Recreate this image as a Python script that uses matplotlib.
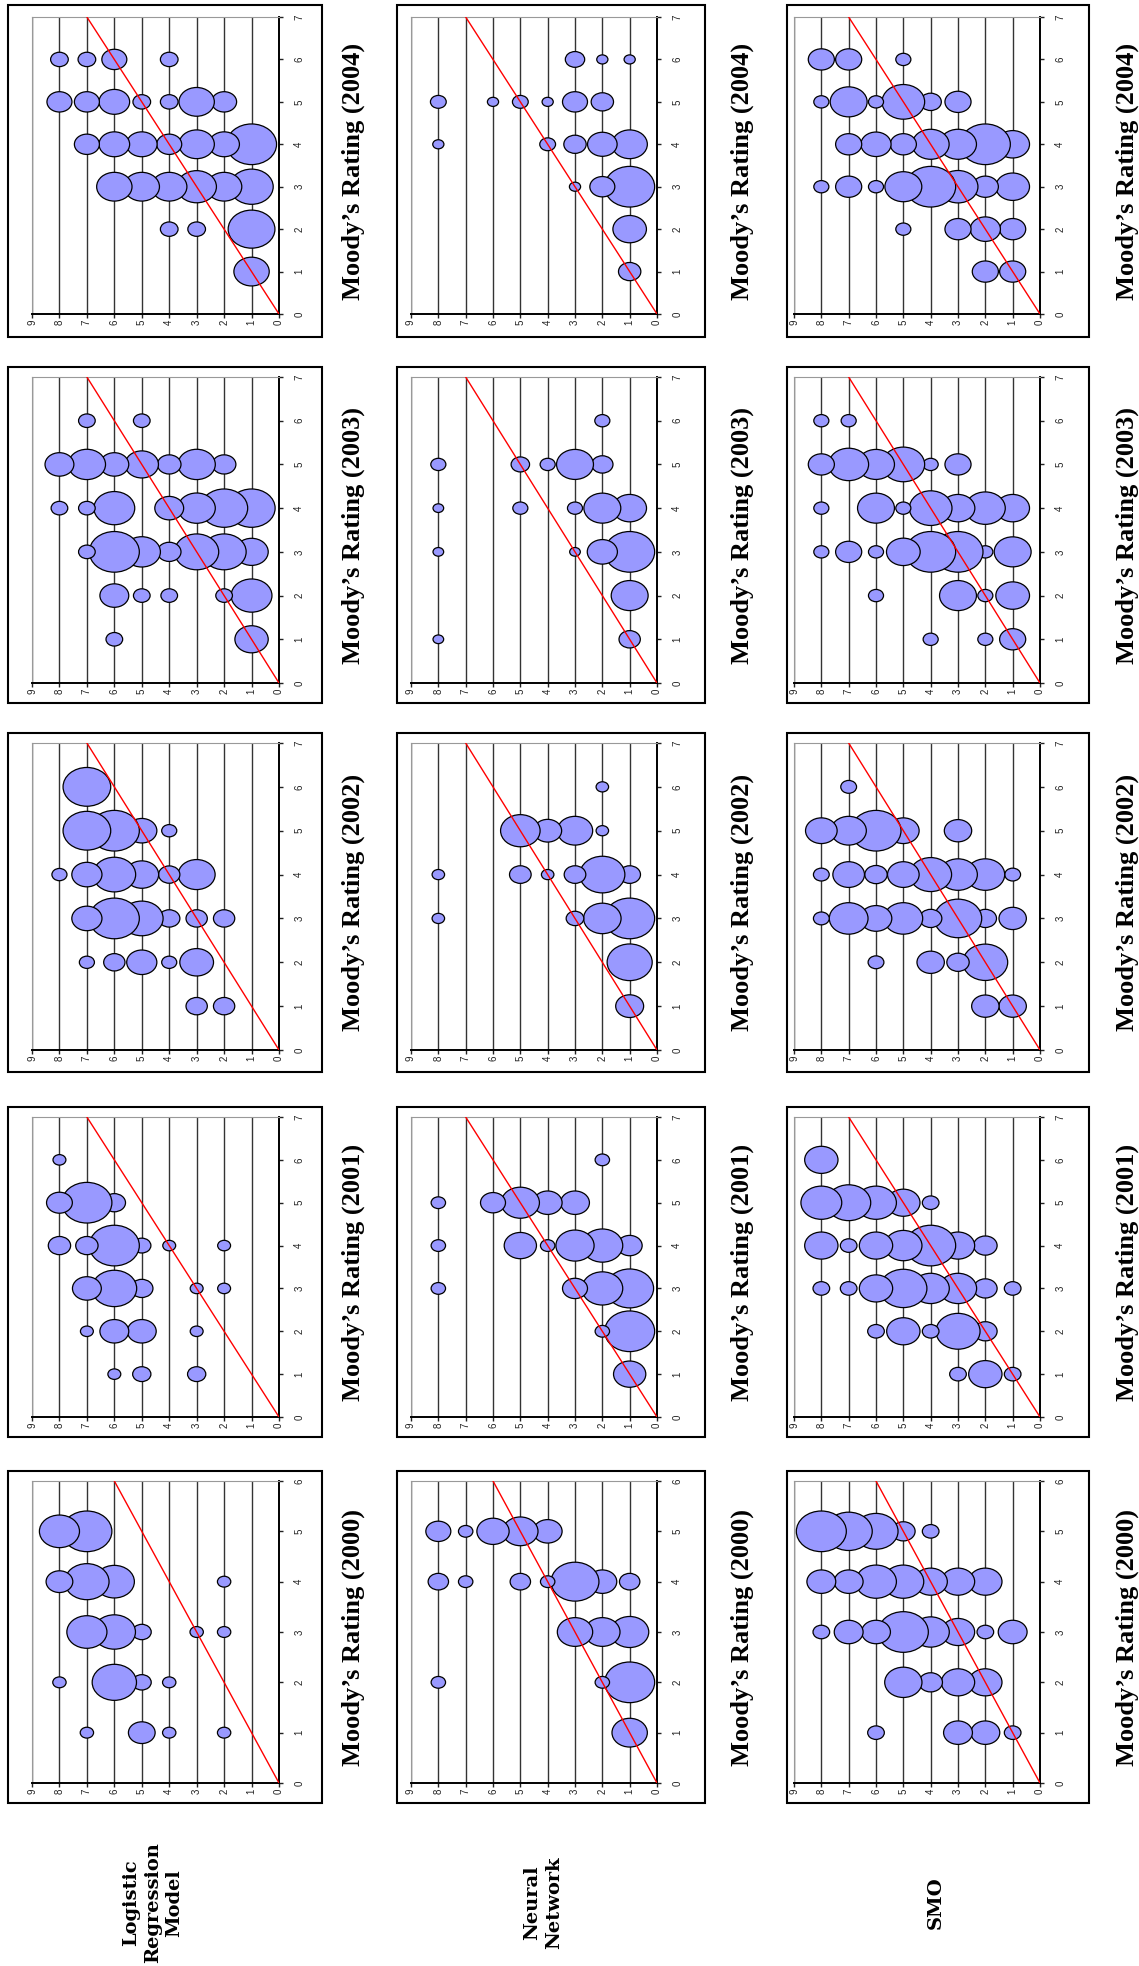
import numpy as np
import matplotlib
matplotlib.use('Agg')
import matplotlib.pyplot as plt
from matplotlib.path import Path
from matplotlib.patches import Rectangle

# bubbles per panel: (Moody's rating, model rating, count)
LR_2004 = [(6, 8, 1), (6, 7, 1), (6, 6, 2), (6, 4, 1),
           (5, 8, 2), (5, 7, 2), (5, 6, 3), (5, 5, 1), (5, 4, 1), (5, 3, 4), (5, 2, 2),
           (4, 7, 2), (4, 6, 3), (4, 5, 3), (4, 4, 2), (4, 3, 4), (4, 2, 3), (4, 1, 8),
           (3, 6, 4), (3, 5, 4), (3, 4, 4), (3, 3, 5), (3, 2, 4), (3, 1, 6),
           (2, 4, 1), (2, 3, 1), (2, 1, 7),
           (1, 1, 4)]
LR_2003 = [(6, 7, 1), (6, 5, 1),
           (5, 8, 3), (5, 7, 5), (5, 6, 3), (5, 5, 4), (5, 4, 2), (5, 3, 5), (5, 2, 2),
           (4, 8, 1), (4, 7, 1), (4, 6, 6), (4, 4, 3), (4, 3, 5), (4, 2, 8), (4, 1, 8),
           (3, 7, 1), (3, 6, 9), (3, 5, 5), (3, 4, 2), (3, 3, 7), (3, 2, 7), (3, 1, 4),
           (2, 6, 3), (2, 5, 1), (2, 4, 1), (2, 2, 1), (2, 1, 6),
           (1, 6, 1), (1, 1, 4)]
LR_2002 = [(6, 7, 10),
           (5, 7, 10), (5, 6, 11), (5, 5, 4), (5, 4, 1),
           (4, 8, 1), (4, 7, 4), (4, 6, 8), (4, 5, 5), (4, 4, 2), (4, 3, 6),
           (3, 7, 4), (3, 6, 11), (3, 5, 8), (3, 4, 2), (3, 3, 2), (3, 2, 2),
           (2, 7, 1), (2, 6, 2), (2, 5, 4), (2, 4, 1), (2, 3, 5),
           (1, 3, 2), (1, 2, 2)]
LR_2001 = [(6, 8, 1),
           (5, 8, 4), (5, 7, 15), (5, 6, 3),
           (4, 8, 3), (4, 7, 3), (4, 6, 15), (4, 5, 2), (4, 4, 1), (4, 2, 1),
           (3, 7, 5), (3, 6, 12), (3, 5, 3), (3, 3, 1), (3, 2, 1),
           (2, 7, 1), (2, 6, 5), (2, 5, 5), (2, 3, 1),
           (1, 6, 1), (1, 5, 2), (1, 3, 2)]
LR_2000 = [(5, 8, 9), (5, 7, 14),
           (4, 8, 4), (4, 7, 11), (4, 6, 9), (4, 2, 1),
           (3, 7, 9), (3, 6, 10), (3, 5, 2), (3, 3, 1), (3, 2, 1),
           (2, 8, 1), (2, 6, 11), (2, 5, 2), (2, 4, 1),
           (1, 7, 1), (1, 5, 4), (1, 4, 1), (1, 2, 1)]

NN_2004 = [(6, 3, 3), (6, 2, 1), (6, 1, 1),
           (5, 8, 2), (5, 6, 1), (5, 5, 2), (5, 4, 1), (5, 3, 5), (5, 2, 4),
           (4, 8, 1), (4, 4, 2), (4, 3, 4), (4, 2, 7), (4, 1, 10),
           (3, 3, 1), (3, 2, 5), (3, 1, 20),
           (2, 1, 9),
           (1, 1, 4)]
NN_2003 = [(6, 2, 2),
           (5, 8, 2), (5, 5, 3), (5, 4, 2), (5, 3, 12), (5, 2, 4),
           (4, 8, 1), (4, 5, 2), (4, 3, 2), (4, 2, 12), (4, 1, 10),
           (3, 8, 1), (3, 3, 1), (3, 2, 8), (3, 1, 22),
           (2, 1, 12),
           (1, 8, 1), (1, 1, 4)]
NN_2002 = [(6, 2, 1),
           (5, 5, 10), (5, 4, 5), (5, 3, 8), (5, 2, 1),
           (4, 8, 1), (4, 5, 3), (4, 4, 1), (4, 3, 3), (4, 2, 13), (4, 1, 3),
           (3, 8, 1), (3, 3, 2), (3, 2, 9), (3, 1, 16),
           (2, 1, 13),
           (1, 1, 5)]
NN_2001 = [(6, 2, 1),
           (5, 8, 1), (5, 6, 3), (5, 5, 7), (5, 4, 4), (5, 3, 4),
           (4, 8, 1), (4, 5, 5), (4, 4, 1), (4, 3, 7), (4, 2, 8), (4, 1, 3),
           (3, 8, 1), (3, 3, 3), (3, 2, 8), (3, 1, 11),
           (2, 2, 1), (2, 1, 12),
           (1, 1, 5)]
NN_2000 = [(5, 8, 3), (5, 7, 1), (5, 6, 5), (5, 5, 6), (5, 4, 4),
           (4, 8, 2), (4, 7, 1), (4, 5, 2), (4, 4, 1), (4, 3, 11), (4, 2, 4), (4, 1, 2),
           (3, 3, 6), (3, 2, 6), (3, 1, 7),
           (2, 8, 1), (2, 2, 1), (2, 1, 12),
           (1, 1, 6)]

SMO_2004 = [(6, 8, 3), (6, 7, 3), (6, 5, 1),
            (5, 8, 1), (5, 7, 6), (5, 6, 1), (5, 5, 8), (5, 4, 2), (5, 3, 3),
            (4, 7, 3), (4, 6, 4), (4, 5, 3), (4, 4, 6), (4, 3, 6), (4, 2, 11), (4, 1, 5),
            (3, 8, 1), (3, 7, 3), (3, 6, 1), (3, 5, 6), (3, 4, 11), (3, 3, 7), (3, 2, 3), (3, 1, 5),
            (2, 5, 1), (2, 3, 3), (2, 2, 4), (2, 1, 3),
            (1, 2, 3), (1, 1, 3)]
SMO_2003 = [(6, 8, 1), (6, 7, 1),
            (5, 8, 3), (5, 7, 7), (5, 6, 6), (5, 5, 8), (5, 4, 1), (5, 3, 3),
            (4, 8, 1), (4, 6, 6), (4, 5, 1), (4, 4, 8), (4, 3, 5), (4, 2, 7), (4, 1, 5),
            (3, 8, 1), (3, 7, 3), (3, 6, 1), (3, 5, 5), (3, 4, 11), (3, 3, 11), (3, 2, 1), (3, 1, 6),
            (2, 6, 1), (2, 3, 6), (2, 2, 1), (2, 1, 5),
            (1, 4, 1), (1, 2, 1), (1, 1, 3)]
SMO_2002 = [(6, 7, 1),
            (5, 8, 4), (5, 7, 5), (5, 6, 10), (5, 5, 4), (5, 3, 3),
            (4, 8, 1), (4, 7, 4), (4, 6, 2), (4, 5, 4), (4, 4, 7), (4, 3, 6), (4, 2, 6), (4, 1, 1),
            (3, 8, 1), (3, 7, 6), (3, 6, 4), (3, 5, 6), (3, 4, 2), (3, 3, 9), (3, 2, 2), (3, 1, 3),
            (2, 6, 1), (2, 4, 3), (2, 3, 2), (2, 2, 8),
            (1, 2, 3), (1, 1, 3)]
SMO_2001 = [(6, 8, 4),
            (5, 8, 6), (5, 7, 7), (5, 6, 6), (5, 5, 4), (5, 4, 1),
            (4, 8, 4), (4, 7, 1), (4, 6, 4), (4, 5, 5), (4, 4, 9), (4, 3, 4), (4, 2, 2),
            (3, 8, 1), (3, 7, 1), (3, 6, 4), (3, 5, 8), (3, 4, 5), (3, 3, 5), (3, 2, 2), (3, 1, 1),
            (2, 6, 1), (2, 5, 4), (2, 4, 1), (2, 3, 7), (2, 2, 2),
            (1, 3, 1), (1, 2, 4), (1, 1, 1)]
SMO_2000 = [(5, 8, 9), (5, 7, 8), (5, 6, 7), (5, 5, 2), (5, 4, 1),
            (4, 8, 3), (4, 7, 3), (4, 6, 6), (4, 5, 6), (4, 4, 4), (4, 3, 4), (4, 2, 4),
            (3, 8, 1), (3, 7, 3), (3, 6, 3), (3, 5, 9), (3, 4, 5), (3, 3, 4), (3, 2, 1), (3, 1, 3),
            (2, 5, 5), (2, 4, 2), (2, 3, 4), (2, 2, 4),
            (1, 6, 1), (1, 3, 3), (1, 2, 3), (1, 1, 1)]

years = [2004, 2003, 2002, 2001, 2000]
models = ['Logistic\nRegression\nModel', 'Neural\nNetwork', 'SMO']
moody_max = {2004: 7, 2003: 7, 2002: 7, 2001: 7, 2000: 6}
panels = [[LR_2004, NN_2004, SMO_2004],
          [LR_2003, NN_2003, SMO_2003],
          [LR_2002, NN_2002, SMO_2002],
          [LR_2001, NN_2001, SMO_2001],
          [LR_2000, NN_2000, SMO_2000]]

W, H = 1139, 1966
fig = plt.figure(figsize=(W / 100, H / 100), dpi=100)
fig.patch.set_facecolor('white')

# layout in pixels (page is turned 90 degrees)
col_plot = [(32, 279), (411, 657), (794, 1040)]
col_frame = [(8, 322), (397, 705), (787, 1089)]
col_label = [353, 742, 1127]
row_plot = [(17, 314), (377, 683), (743, 1050), (1117, 1417), (1481, 1783)]
row_frame = [(5, 337), (367, 703), (733, 1072), (1107, 1437), (1471, 1803)]
model_label_x = [153, 543, 936]
model_label_y = 1903

# bubble outline, wider than tall
circ = Path.unit_circle()
ell = Path(circ.vertices * np.array([1.0, 1 / 1.23]), circ.codes)
max_d = 50.0  # px, diameter of largest bubble in a panel

for r, year in enumerate(years):
    for c in range(3):
        data = sorted(panels[r][c], key=lambda t: t[1])
        moody = np.array([t[0] for t in data])
        model = np.array([t[1] for t in data])
        cnt = np.array([t[2] for t in data], dtype=float)

        x0, x1 = col_plot[c]
        y0, y1 = row_plot[r]
        ax = fig.add_axes([x0 / W, 1 - y1 / H, (x1 - x0) / W, (y1 - y0) / H])
        top = moody_max[year]

        ax.set_xlim(9, 0)
        ax.set_ylim(0, top)
        ax.set_xticks(range(10))
        ax.set_yticks(range(top + 1))
        ax.xaxis.grid(True, color='#333333', lw=1.0)
        ax.set_axisbelow(True)
        ax.yaxis.tick_right()
        for side in ['top', 'left']:
            ax.spines[side].set_color('#999999')
            ax.spines[side].set_linewidth(0.8)
        ax.spines['right'].set_linewidth(1.4)
        ax.spines['bottom'].set_linewidth(1.4)
        ax.tick_params(axis='y', direction='out', length=3, width=1,
                       labelsize=7, pad=8, labelrotation=90, colors='#222222')
        ax.tick_params(axis='x', direction='out', length=3, width=1,
                       labelsize=7, pad=1, labelrotation=90, colors='#222222')
        for lab in ax.get_yticklabels() + ax.get_xticklabels():
            lab.set_family('Liberation Sans')
        for lab in ax.get_yticklabels():
            lab.set_va('center')
            lab.set_ha('left')

        d = max_d * np.sqrt(cnt / cnt.max())
        s = (d * 0.72) ** 2
        ax.scatter(model, moody, s=s, marker=ell, facecolor='#9999ff',
                   edgecolor='black', linewidths=0.9, zorder=3, clip_on=False)
        ax.plot([0, top], [0, top], color='red', lw=1.0, zorder=4)

        fx0, fx1 = col_frame[c]
        fy0, fy1 = row_frame[r]
        fig.add_artist(Rectangle((fx0 / W, 1 - fy1 / H), (fx1 - fx0) / W, (fy1 - fy0) / H,
                                 transform=fig.transFigure, fill=False,
                                 ec='black', lw=1.5))
        fig.text(col_label[c] / W, 1 - (fy0 + fy1) / 2 / H, 'Moody\u2019s Rating (%d)' % year,
                 rotation=90, ha='center', va='center', fontsize=19,
                 fontweight='bold', family='Liberation Serif')

for c, name in enumerate(models):
    fig.text(model_label_x[c] / W, 1 - model_label_y / H, name, rotation=90,
             ha='center', va='center', multialignment='center', fontsize=14,
             fontweight='bold', family='DejaVu Serif', linespacing=1.25)

fig.savefig('out.png', dpi=100)
